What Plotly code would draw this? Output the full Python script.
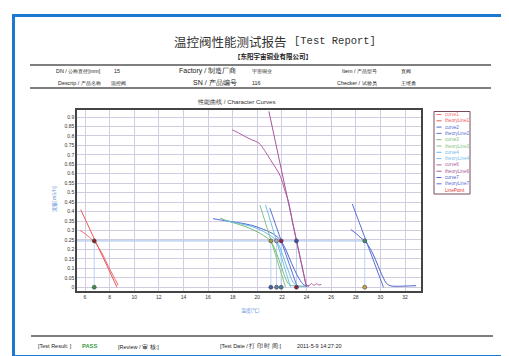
import plotly.graph_objects as go

# ---------------- data ----------------
curve1_x = [5.6, 6.0, 6.4, 6.75, 7.1, 7.5, 7.9, 8.3, 8.7]
curve1_y = [0.300, 0.283, 0.262, 0.240, 0.210, 0.165, 0.110, 0.060, 0.010]
theory1_x = [5.65, 8.6]
theory1_y = [0.41, 0.0]

curve2_x = [16.4, 17.0, 17.5, 18.0, 18.5, 19.0, 19.5, 20.0, 20.5, 21.0, 21.4, 21.8, 22.2, 22.6, 23.0, 23.4, 23.8, 24.2]
curve2_y = [0.362, 0.356, 0.351, 0.346, 0.341, 0.335, 0.328, 0.318, 0.306, 0.292, 0.277, 0.255, 0.215, 0.155, 0.095, 0.045, 0.012, 0.006]
theory2_x = [21.02, 23.25]
theory2_y = [0.418, 0.0]

curve3_x = [17.0, 17.5, 18.0, 18.5, 19.0, 19.5, 20.0, 20.5, 21.07, 21.4, 21.7, 22.0, 22.3, 22.6, 23.0, 23.5, 24.0]
curve3_y = [0.366, 0.352, 0.342, 0.332, 0.321, 0.308, 0.293, 0.274, 0.245, 0.205, 0.155, 0.100, 0.045, 0.014, 0.007, 0.005, 0.005]
theory3_x = [20.21, 22.3]
theory3_y = [0.435, 0.0]

curve4_x = [17.3, 18.0, 18.5, 19.0, 19.5, 20.0, 20.5, 21.0, 21.3, 21.56, 21.9, 22.2, 22.5, 22.8, 23.1, 23.5, 24.0]
curve4_y = [0.352, 0.344, 0.338, 0.330, 0.322, 0.310, 0.295, 0.275, 0.262, 0.245, 0.200, 0.145, 0.090, 0.040, 0.012, 0.006, 0.005]
theory4_x = [20.67, 22.7]
theory4_y = [0.435, 0.0]

curve6_x = [17.97, 18.5, 19.0, 19.5, 20.13, 20.6, 21.07, 21.5, 21.88, 22.2, 22.56, 22.9, 23.18, 23.5, 23.8, 24.0, 24.2, 24.4, 24.6, 24.8, 25.0, 25.2]
curve6_y = [0.832, 0.815, 0.797, 0.781, 0.762, 0.722, 0.674, 0.630, 0.586, 0.520, 0.444, 0.330, 0.245, 0.150, 0.060, 0.012, 0.008, 0.020, 0.010, 0.018, 0.012, 0.015]
theory6_x = [20.94, 24.0]
theory6_y = [0.93, 0.0]

curve7_x = [27.6, 28.0, 28.4, 28.73, 29.0, 29.4, 29.8, 30.2, 30.5, 30.8, 31.2, 32.0, 32.9]
curve7_y = [0.305, 0.285, 0.262, 0.245, 0.222, 0.175, 0.115, 0.055, 0.020, 0.008, 0.005, 0.006, 0.008]
theory7_x = [27.72, 30.25]
theory7_y = [0.44, 0.0]

point_x = [6.75, 21.1, 21.56, 21.94, 23.18, 28.73]
point_flow = 0.245
point_top_colors = ["#8b2020", "#a0a040", "#a8a8b8", "#902050", "#4050a0", "#409060"]
point_bot_colors = ["#409040", "#4060a0", "#6080a0", "#4080a0", "#902040", "#c8a830"]

series_names = ["curve1", "theoryLine1", "curve2", "theoryLine2", "curve3", "theoryLine3",
                "curve4", "theoryLine4", "curve6", "theoryLine6", "curve7", "theoryLine7", "LinePoint"]
series_colors = ["#f07070", "#ec5858", "#5068d0", "#5a72d4", "#78bc78", "#84c484",
                 "#68bce4", "#74c2e8", "#b060a0", "#a8549a", "#4c62cc", "#5a70d2", "#e03030"]

x_ticks = list(range(6, 33, 2))
y_ticks = [round(i * 0.05, 2) for i in range(19)]
y_tick_text = [("%g" % v) for v in y_ticks]

# ---------------- figure ----------------
W, H = 509, 356
L, R, T, B = 69, 413, 102, 283
PW, PH = R - L, B - T


def px(x):
    return (x - L) / PW


def py(y):
    return (B - y) / PH


fig = go.Figure()

# guide lines of the point series
fig.add_trace(go.Scatter(x=[5.35, max(point_x)], y=[point_flow, point_flow], mode="lines",
                         line=dict(color="#b4ccee", width=1.3), hoverinfo="skip"))
for xv in point_x:
    fig.add_trace(go.Scatter(x=[xv, xv], y=[0, point_flow], mode="lines",
                             line=dict(color="#bcd2f2", width=1), hoverinfo="skip"))

series = [(curve1_x, curve1_y), (theory1_x, theory1_y), (curve2_x, curve2_y), (theory2_x, theory2_y),
          (curve3_x, curve3_y), (theory3_x, theory3_y), (curve4_x, curve4_y), (theory4_x, theory4_y),
          (curve6_x, curve6_y), (theory6_x, theory6_y), (curve7_x, curve7_y), (theory7_x, theory7_y)]
for (sx, sy), name, col in zip(series, series_names[:-1], series_colors[:-1]):
    fig.add_trace(go.Scatter(x=sx, y=sy, mode="lines", name=name,
                             line=dict(color=col, width=1, shape="spline" if name.startswith("curve") else "linear")))

fig.add_trace(go.Scatter(x=point_x, y=[point_flow] * len(point_x), mode="markers", name="LinePoint",
                         marker=dict(size=4, color=point_top_colors, line=dict(color="#404050", width=0.6))))
fig.add_trace(go.Scatter(x=point_x, y=[0] * len(point_x), mode="markers", name="LinePoint",
                         marker=dict(size=4, color=point_bot_colors, line=dict(color="#404050", width=0.6))))

shapes = []
annotations = []

# page blue frame
shapes.append(dict(type="rect", xref="paper", yref="paper", x0=px(5.5), x1=px(502.5), y0=py(7.5), y1=py(348.5),
                   line=dict(color="#1e78d2", width=3)))
# header/footer rules
for yy, x0, x1 in [(57, 22, 483), (80, 22, 483), (328, 23, 485)]:
    shapes.append(dict(type="line", xref="paper", yref="paper", x0=px(x0), x1=px(x1), y0=py(yy), y1=py(yy),
                       line=dict(color="#555555", width=1.4)))


def ann(text, x, y, size, color="#222222", xanchor="left", family="Liberation Sans, Arial", bold=False):
    if bold:
        text = "<b>" + text + "</b>"
    annotations.append(dict(text=text, x=px(x), y=py(y), xref="paper", yref="paper", showarrow=False,
                            xanchor=xanchor, yanchor="middle", font=dict(size=size, color=color, family=family)))


CJK = "Noto Sans CJK SC"
ann("温控阀性能测试报告", 281, 33, 12.5, "#333333", "right", CJK)
ann("[Test Report]", 284, 33, 10.5, "#333333", "left", "Liberation Mono, Courier New")
ann("【东阳宇宙铜业有限公司】", 265, 48, 6.5, "#222222", "center", CJK, bold=True)

ann("DN / 公称直径[mm]", 95, 63, 5.4, xanchor="right")
ann("15", 104, 63, 5.4)
ann("Factory / 制造厂商", 230, 63, 7, xanchor="right")
ann("宇宙铜业", 242, 63, 5.2)
ann("Item / 产品型号", 371, 63, 5.4, xanchor="right")
ann("直阀", 391, 63, 5.2)
ann("Descrip / 产品名称", 95, 74.5, 5.4, xanchor="right")
ann("温控阀", 101, 74.5, 5.2)
ann("SN / 产品编号", 231, 74.5, 7, xanchor="right")
ann("116", 242, 74.5, 5.4)
ann("Checker / 试验员", 371, 74.5, 5.4, xanchor="right")
ann("王维勇", 391, 74.5, 5.2)

ann("性能曲线 / Character Curves", 228, 94, 6.2, "#333333", "center")
ann("温度[℃]", 242, 301.5, 5, "#5a8fd8", "center", CJK)
annotations.append(dict(text="流量[m3/h]", x=px(46), y=py(191), xref="paper", yref="paper", showarrow=False,
                        textangle=-90, xanchor="center", yanchor="middle",
                        font=dict(size=5, color="#5a8fd8", family=CJK)))

ann("[Test Result: ]", 28, 338, 5.5)
ann("PASS", 72, 338, 5.8, "#3a9a4a", bold=True)
ann("[Review / 审 核:]", 108, 338, 5.5)
ann("[Test Date / 打 印 时 间:]", 210, 338, 5.5)
ann("2011-5-9 14:27:20", 287, 338, 5.5)

# custom legend
shapes.append(dict(type="rect", xref="paper", yref="paper", x0=px(426), x1=px(462), y0=py(103.5), y1=py(186),
                   line=dict(color="#7a4a5a", width=1), fillcolor="white"))
for i, (name, col) in enumerate(zip(series_names, series_colors)):
    yy = 106.5 + i * 6.3
    if name != "LinePoint":
        shapes.append(dict(type="line", xref="paper", yref="paper", x0=px(428.5), x1=px(433.5),
                           y0=py(yy), y1=py(yy), line=dict(color=col, width=1)))
    ann(name, 434.5, yy, 4.6, col)

fig.update_layout(
    width=W, height=H, margin=dict(l=L, r=W - R, t=T, b=H - B),
    paper_bgcolor="white", plot_bgcolor="white", showlegend=False,
    shapes=shapes, annotations=annotations,
    xaxis=dict(range=[5.35, 33.3], tickvals=x_ticks, ticktext=[str(v) for v in x_ticks],
               showgrid=True, gridcolor="#d2cce0", gridwidth=1, zeroline=False,
               showline=True, linecolor="#444444", linewidth=1.5, mirror=True,
               ticks="", tickfont=dict(size=5, color="#333333", family="Liberation Sans, Arial")),
    yaxis=dict(range=[-0.02, 0.937], tickvals=y_ticks, ticktext=y_tick_text,
               showgrid=True, gridcolor="#d2cce0", gridwidth=1, zeroline=False,
               showline=True, linecolor="#444444", linewidth=1.5, mirror=True,
               ticks="", tickfont=dict(size=5, color="#333333", family="Liberation Sans, Arial")),
)

fig.write_html("out.html")
